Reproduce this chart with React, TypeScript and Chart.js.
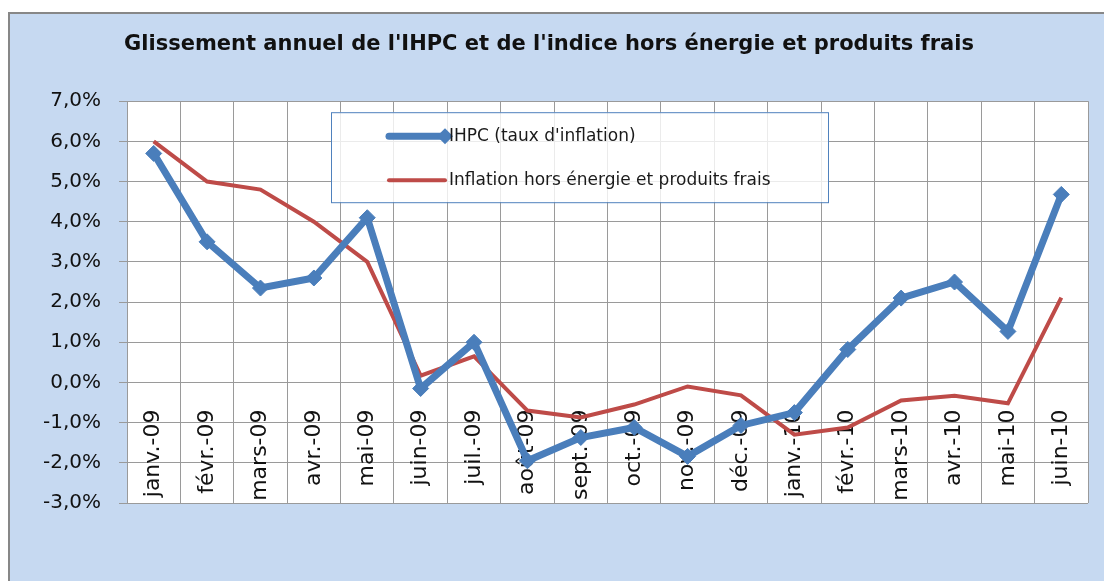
import React, { useEffect, useRef } from "react";
import { Chart, registerables } from "chart.js";

Chart.register(...registerables);

const categories = [
  "janv.-09", "févr.-09", "mars-09", "avr.-09", "mai-09", "juin-09", "juil.-09", "août-09", "sept.-09",
  "oct.-09", "nov.-09", "déc.-09", "janv.-10", "févr.-10", "mars-10", "avr.-10", "mai-10", "juin-10",
];
const ihpc = [5.7, 3.5, 2.35, 2.6, 4.1, -0.15, 1.0, -1.95, -1.37, -1.12, -1.84, -1.07, -0.75, 0.82, 2.1, 2.5, 1.27, 4.68];
const horsEnergie = [6.0, 5.0, 4.8, 4.0, 3.0, 0.17, 0.65, -0.7, -0.87, -0.55, -0.1, -0.32, -1.3, -1.12, -0.45, -0.33, -0.52, 2.11];
const seriesNames = ["IHPC (taux d'inflation)", "Inflation hors énergie et produits frais"];
const titleText = "Glissement annuel de l'IHPC et de l'indice hors énergie et produits frais";
const yMin = -3;
const yMax = 7;
const yStep = 1;

const BLUE = "#4A7EBB";
const RED = "#BE4B48";
const GRID = "#9A9A9A";

const plotBgPlugin = {
  id: "plotBg",
  beforeDraw(chart: any) {
    const { ctx, chartArea } = chart;
    ctx.save();
    ctx.fillStyle = "#FFFFFF";
    ctx.fillRect(chartArea.left, chartArea.top, chartArea.right - chartArea.left, chartArea.bottom - chartArea.top);
    ctx.restore();
  },
};

const legendPlugin = {
  id: "boxLegend",
  afterDraw(chart: any) {
    const { ctx, chartArea } = chart;
    const x = chartArea.left + 204;
    const y = chartArea.top + 11;
    const w = 497;
    const h = 90;
    ctx.save();
    ctx.fillStyle = "rgba(255,255,255,0.8)";
    ctx.fillRect(x, y, w, h);
    ctx.strokeStyle = "#4F81BD";
    ctx.lineWidth = 1;
    ctx.strokeRect(x + 0.5, y + 0.5, w, h);
    const rows = [24, 68];
    chart.data.datasets.forEach((ds: any, i: number) => {
      const ry = y + rows[i];
      ctx.beginPath();
      ctx.strokeStyle = ds.borderColor;
      ctx.lineWidth = ds.borderWidth;
      ctx.lineCap = "round";
      ctx.moveTo(x + 58, ry);
      ctx.lineTo(x + 114, ry);
      ctx.stroke();
      if (ds.pointRadius > 0) {
        const cx = x + 114;
        const r = ds.pointRadius;
        ctx.beginPath();
        ctx.fillStyle = ds.pointBackgroundColor;
        ctx.moveTo(cx, ry - r);
        ctx.lineTo(cx + r, ry);
        ctx.lineTo(cx, ry + r);
        ctx.lineTo(cx - r, ry);
        ctx.closePath();
        ctx.fill();
      }
      ctx.fillStyle = "#1a1a1a";
      ctx.font = "17px 'DejaVu Sans'";
      ctx.textBaseline = "middle";
      ctx.textAlign = "left";
      ctx.fillText(ds.label, x + 118, ry);
    });
    ctx.restore();
  },
};

export default function App() {
  const ref = useRef<HTMLCanvasElement>(null);
  useEffect(() => {
    if (!ref.current) return;
    const chart = new Chart(ref.current, {
      type: "line",
      data: {
        labels: categories,
        datasets: [
          {
            label: seriesNames[0],
            data: ihpc,
            borderColor: BLUE,
            backgroundColor: BLUE,
            borderWidth: 7,
            pointStyle: "rectRot",
            pointRadius: 8,
            pointBackgroundColor: BLUE,
            pointBorderColor: BLUE,
            pointBorderWidth: 1,
            tension: 0,
          },
          {
            label: seriesNames[1],
            data: horsEnergie,
            borderColor: RED,
            backgroundColor: RED,
            borderWidth: 4,
            pointRadius: 0,
            pointBackgroundColor: RED,
            tension: 0,
          },
        ],
      },
      options: {
        responsive: false,
        animation: false,
        layout: { padding: { left: 0, right: 16, top: 0, bottom: 78 } },
        plugins: {
          legend: { display: false },
          tooltip: { enabled: false },
          title: {
            display: true,
            text: titleText,
            color: "#111",
            font: { family: "'DejaVu Sans'", size: 21, weight: "bold", lineHeight: 1.2 },
            padding: { top: 18, bottom: 44 },
          },
        },
        scales: {
          x: {
            type: "category",
            position: { y: 0 } as any,
            offset: true,
            grid: { display: true, offset: true, color: GRID, lineWidth: 1, drawTicks: false },
            border: { display: false },
            afterFit: (scale: any) => {
              scale.paddingLeft = 0;
              scale.paddingRight = 0;
            },
            ticks: {
              autoSkip: false,
              minRotation: 90,
              maxRotation: 90,
              padding: 27,
              color: "#111",
              font: { family: "'DejaVu Sans'", size: 22 },
            },
          },
          y: {
            min: yMin,
            max: yMax,
            grid: { color: GRID, lineWidth: 1, drawTicks: true, tickLength: 8 },
            border: { display: true, color: GRID },
            afterFit: (scale: any) => {
              scale.width = 117;
            },
            ticks: {
              stepSize: yStep,
              padding: 18,
              color: "#111",
              font: { family: "'DejaVu Sans'", size: 20 },
              callback: (v: any) => Number(v).toFixed(1).replace(".", ",") + "%",
            },
          },
        },
      },
      plugins: [plotBgPlugin, legendPlugin],
    });
    return () => chart.destroy();
  }, []);
  return (
    <div
      style={{
        position: "fixed",
        left: 8,
        top: 12,
        width: 1094,
        height: 567,
        borderTop: "2px solid #878787",
        borderLeft: "2px solid #878787",
        background: "#C6D9F1",
      }}
    >
      <canvas ref={ref} width={1094} height={567} style={{ display: "block", width: 1094, height: 567 }} />
    </div>
  );
}
